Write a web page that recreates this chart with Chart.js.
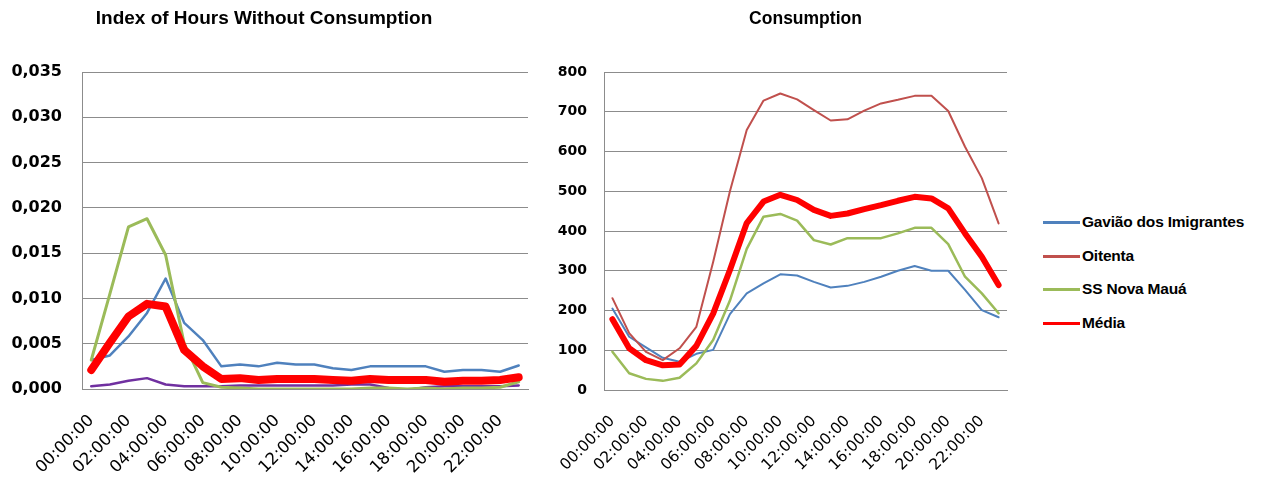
<!DOCTYPE html>
<html>
<head>
<meta charset="utf-8">
<script src="https://cdn.jsdelivr.net/npm/chart.js@4.4.1/dist/chart.umd.min.js"></script>
<style>
  html, body { margin: 0; padding: 0; background: #fff; width: 1262px; height: 481px; overflow: hidden; }
  .pane { position: absolute; top: 0; }
  #legend { position: absolute; left: 1043px; top: 0; font: bold 15.5px "Liberation Sans", Arial, sans-serif; color: #000; letter-spacing: -0.2px; }
  #legend .item { position: absolute; left: 0; display: flex; align-items: center; white-space: nowrap; height: 20px; }
  #legend .swatch { width: 37px; height: 3px; margin-right: 2px; }
</style>
</head>
<body>
<div class="pane" style="left:0"><canvas id="hoursChart" width="552" height="481"></canvas></div>
<div class="pane" style="left:540px"><canvas id="consumptionChart" width="470" height="481"></canvas></div>
<div id="legend"></div>

<script>
// Hourly categories (24 points, one per hour)
const hours = [
  '00:00:00', '01:00:00', '02:00:00', '03:00:00', '04:00:00', '05:00:00',
  '06:00:00', '07:00:00', '08:00:00', '09:00:00', '10:00:00', '11:00:00',
  '12:00:00', '13:00:00', '14:00:00', '15:00:00', '16:00:00', '17:00:00',
  '18:00:00', '19:00:00', '20:00:00', '21:00:00', '22:00:00', '23:00:00'
];

const seriesNames = ['Gavião dos Imigrantes', 'Oitenta', 'SS Nova Mauá', 'Média'];

// Index of hours without consumption
const idxGaviao = [0.0032, 0.0037, 0.0058, 0.0084, 0.0122, 0.0073, 0.0054, 0.0025, 0.0027, 0.0025, 0.0029, 0.0027,
                   0.0027, 0.0023, 0.0021, 0.0025, 0.0025, 0.0025, 0.0025, 0.0019, 0.0021, 0.0021, 0.0019, 0.0026];
const idxOitenta = [0.0003, 0.0005, 0.0009, 0.0012, 0.0005, 0.0003, 0.0003, 0.0003, 0.0004, 0.0004, 0.0004, 0.0004,
                    0.0004, 0.0004, 0.0005, 0.0005, 0.0001, -0.0001, 0.0002, 0.0003, 0.0003, 0.0003, 0.0003, 0.0004];
const idxNovaMaua = [0.0032, 0.0105, 0.0179, 0.0188, 0.0148, 0.0050, 0.0007, 0.0002, 0.0001, 0.0000, 0.0000, 0.0000,
                     0.0000, 0.0000, 0.0000, 0.0001, 0.0001, 0.0000, 0.0001, 0.0000, 0.0001, 0.0001, 0.0002, 0.0008];
const idxMedia = [0.0021, 0.0051, 0.0080, 0.0094, 0.0091, 0.0043, 0.0025, 0.0011, 0.0012, 0.0010, 0.0011, 0.0011,
                  0.0011, 0.0010, 0.0009, 0.0011, 0.0010, 0.0010, 0.0010, 0.0008, 0.0009, 0.0009, 0.0010, 0.0013];

// Consumption
const consGaviao = [205, 134, 107, 81, 71, 91, 101, 191, 243, 268, 291, 288,
                    272, 258, 262, 272, 285, 300, 312, 300, 300, 252, 201, 183];
const consOitenta = [231, 143, 96, 75, 105, 159, 322, 500, 654, 728, 746, 731,
                     704, 678, 681, 703, 721, 730, 740, 740, 702, 612, 533, 419];
const consNovaMaua = [96, 42, 28, 23, 31, 67, 126, 225, 355, 436, 443, 426,
                      377, 366, 382, 382, 382, 394, 408, 408, 367, 285, 243, 193];
const consMedia = [178, 105, 75, 62, 64, 111, 192, 302, 420, 474, 491, 478,
                   453, 438, 444, 455, 465, 476, 486, 482, 457, 394, 335, 264];

const GRID = '#8c8c8c';
const AXIS_FONT = '"DejaVu Sans", sans-serif';

function line(label, data, color, width, order) {
  return {
    label, data, borderColor: color, backgroundColor: color, borderWidth: width,
    pointRadius: 0, pointHoverRadius: 0, tension: 0, fill: false,
    borderJoinStyle: 'round', borderCapStyle: 'round', order
  };
}

function buildOptions(cfg) {
  return {
    responsive: false,
    animation: false,
    layout: { padding: { left: 0, right: cfg.padRight, top: 0, bottom: 0 } },
    plugins: {
      legend: { display: false },
      tooltip: { enabled: false },
      title: {
        display: true, text: cfg.title, color: '#000', fullSize: cfg.fullTitle,
        font: { family: '"Liberation Sans", Arial, sans-serif', size: cfg.titleSize, weight: 'bold' },
        padding: { top: 19 - cfg.titleSize * 0.6, bottom: 72 - 19 - cfg.titleSize * 0.6 }
      }
    },
    scales: {
      x: {
        type: 'category', offset: true,
        grid: { display: false, drawTicks: false },
        border: { display: true, color: GRID, width: 1 },
        ticks: {
          autoSkip: false, minRotation: 45, maxRotation: 45, padding: cfg.xPad, color: '#000',
          font: { family: AXIS_FONT, size: cfg.xFontSize },
          callback: function (v, i) { return i % 2 === 0 ? this.getLabelForValue(v) : ''; }
        },
        afterFit: s => { s.height = cfg.xHeight; s.paddingLeft = 0; s.paddingRight = 0; }
      },
      y: {
        min: 0, max: cfg.yMax,
        grid: { color: GRID, lineWidth: 1, drawTicks: false },
        border: { display: true, color: GRID, width: 1 },
        ticks: {
          stepSize: cfg.yStep, padding: cfg.yPad, color: '#000',
          font: { family: AXIS_FONT, size: cfg.yFontSize, weight: 'bold' },
          callback: cfg.yFormat
        },
        afterFit: s => { s.width = cfg.yWidth; }
      }
    }
  };
}

new Chart(document.getElementById('hoursChart'), {
  type: 'line',
  data: {
    labels: hours,
    datasets: [
      line(seriesNames[0], idxGaviao, '#4f81bd', 2.5, 3),
      line(seriesNames[1], idxOitenta, '#7030a0', 2.5, 2),
      line(seriesNames[2], idxNovaMaua, '#9bbb59', 3, 1),
      line(seriesNames[3], idxMedia, '#ff0000', 8, 0)
    ]
  },
  options: buildOptions({
    title: 'Index of Hours Without Consumption', titleSize: 19, fullTitle: true, padRight: 24,
    yMax: 0.035, yStep: 0.005, yPad: 20, yWidth: 82, yFontSize: 16,
    xPad: 22, xHeight: 92, xFontSize: 16.5,
    yFormat: v => v.toFixed(3).replace('.', ',')
  })
});

const consumption = new Chart(document.getElementById('consumptionChart'), {
  type: 'line',
  data: {
    labels: hours,
    datasets: [
      line(seriesNames[0], consGaviao, '#4f81bd', 2, 3),
      line(seriesNames[1], consOitenta, '#c0504d', 2, 2),
      line(seriesNames[2], consNovaMaua, '#9bbb59', 2.5, 1),
      line(seriesNames[3], consMedia, '#ff0000', 6, 0)
    ]
  },
  options: buildOptions({
    title: 'Consumption', titleSize: 17.5, fullTitle: false, padRight: 3,
    yMax: 800, yStep: 100, yPad: 17, yWidth: 64, yFontSize: 14,
    xPad: 22, xHeight: 91, xFontSize: 15.5,
    yFormat: v => String(v)
  })
});

// Legend built from the consumption chart's datasets
const legendEl = document.getElementById('legend');
const rowCenters = [222, 256, 289, 323];
consumption.data.datasets.forEach((ds, i) => {
  const item = document.createElement('div');
  item.className = 'item';
  item.style.top = (rowCenters[i] - 10) + 'px';
  const sw = document.createElement('span');
  sw.className = 'swatch';
  sw.style.background = ds.borderColor;
  const txt = document.createElement('span');
  txt.textContent = ds.label;
  item.appendChild(sw);
  item.appendChild(txt);
  legendEl.appendChild(item);
});
</script>
</body>
</html>
